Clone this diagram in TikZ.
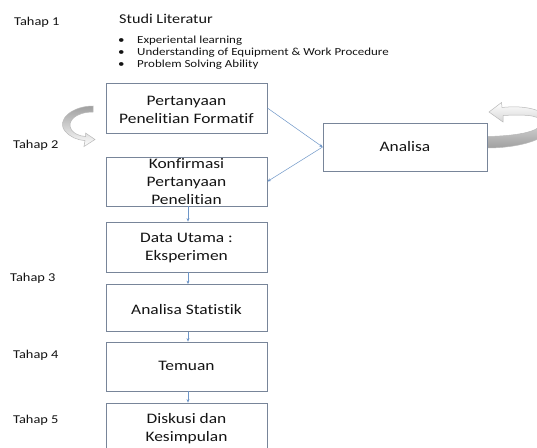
\documentclass[tikz,border=0pt]{standalone}
\usepackage{fontspec}
\setmainfont{Carlito}[FakeStretch=1.2, Ligatures=NoCommon]
\usetikzlibrary{arrows.meta}
\definecolor{boxline}{RGB}{120,133,153}
\definecolor{connc}{RGB}{110,150,200}
\definecolor{txt}{RGB}{20,20,20}
\tikzset{
  boxshape/.style={draw=boxline, line width=0.8pt, fill=white, minimum width=161pt, minimum height=49pt, inner sep=0pt},
  boxtext/.style={font=\fontsize{14.5}{18}\selectfont, text=txt, align=center, inner sep=0pt},
  tahap/.style={font=\fontsize{12}{14}\selectfont, anchor=west, inner sep=0pt, text=txt},
  bul/.style={font=\fontsize{10.8}{13}\selectfont, anchor=west, inner sep=0pt, text=txt},
  connline/.style={draw=connc, line width=0.5pt, -{Stealth[length=3.5pt,width=3pt]}},
  curvy/.style={draw=gray!55, line width=0.5pt}
}
\begin{document}
\begin{tikzpicture}[x=1pt,y=-1pt]
\useasboundingbox (0,0) rectangle (537,447);
\clip (0,0) rectangle (537,447);
\fill[white] (0,0) rectangle (537,447);

% Tahap labels
\node[tahap] (t1) at (14,22) {Tahap 1};
\node[tahap] (t2) at (13,145) {Tahap 2};
\node[tahap] (t3) at (10,278) {Tahap 3};
\node[tahap] (t4) at (13,355) {Tahap 4};
\node[tahap] (t5) at (13,420) {Tahap 5};

% Studi literatur
\node[anchor=west, inner sep=0pt, font=\fontsize{13.5}{16}\selectfont, text=txt] (sl) at (119,19) {Studi Literatur};
\node[bul] (b1) at (118,41) {\makebox[19pt][l]{\textbullet}Experiental learning};
\node[bul] (b2) at (118,53) {\makebox[19pt][l]{\textbullet}Understanding of Equipment \& Work Procedure};
\node[bul] (b3) at (118,65) {\makebox[19pt][l]{\textbullet}Problem Solving Ability};

% curved arrows
\path[curvy, top color=gray!75, bottom color=white]
  (93,106) .. controls (72,106) and (56,120) .. (65,131)
  .. controls (70,137) and (77,140) .. (85,140.5)
  -- (84,146.5) -- (95,139.5) -- (85.5,133) -- (85.5,136.5)
  .. controls (79,136) and (74,133.5) .. (71.5,130)
  .. controls (66,121) and (76,112) .. (93,112) -- cycle;

\path[curvy, top color=white, bottom color=gray!75]
  (487,136.5) .. controls (515,136) and (539,132) .. (541,124)
  .. controls (543,116) and (530,114) .. (503,115.5)
  -- (503,122) -- (489,112) -- (501.5,102.5) -- (502,107.5)
  .. controls (535,104) and (553,115) .. (550,127)
  .. controls (547,141) and (515,148) .. (487,148) -- cycle;

% boxes
\node[boxshape, minimum height=50pt] (pf) at (186.5,108) {};
\node[boxtext] (pft) at (186.5,110) {Pertanyaan\\Penelitian Formatif};
\node[boxshape, minimum width=164pt, minimum height=48pt] (an) at (405,147) {};
\node[boxtext] (ant) at (405,147) {Analisa};
\node[boxshape] (kf) at (186.5,181.5) {};
\node[boxtext] (kft) at (186.5,182) {Konfirmasi\\Pertanyaan\\Penelitian};
\node[boxshape, minimum height=50pt] (du) at (186.5,247) {};
\node[boxtext] (dut) at (186.5,248) {Data Utama :\\Eksperimen};
\node[boxshape, minimum height=47pt] (as) at (186.5,308) {};
\node[boxtext] (ast) at (186.5,310) {Analisa Statistik};
\node[boxshape] (tm) at (186.5,366.5) {};
\node[boxtext] (tmt) at (186.5,366) {Temuan};
\node[boxshape, minimum height=50pt] (dk) at (186.5,428) {};
\node[boxtext] (dkt) at (186.5,429) {Diskusi dan\\Kesimpulan};

% connectors
\draw[connline] (pf.east) -- (an.west);
\draw[connline] (an.west) -- (kf.east);
\draw[connline] ([xshift=1.5pt]kf.south) -- ([xshift=1.5pt]du.north);
\draw[connline] ([xshift=1.5pt]du.south) -- ([xshift=1.5pt]as.north);
\draw[connline] ([xshift=1.5pt]as.south) -- ([xshift=1.5pt]tm.north);
\draw[connline] ([xshift=1.5pt]tm.south) -- ([xshift=1.5pt]dk.north);
\end{tikzpicture}
\end{document}
